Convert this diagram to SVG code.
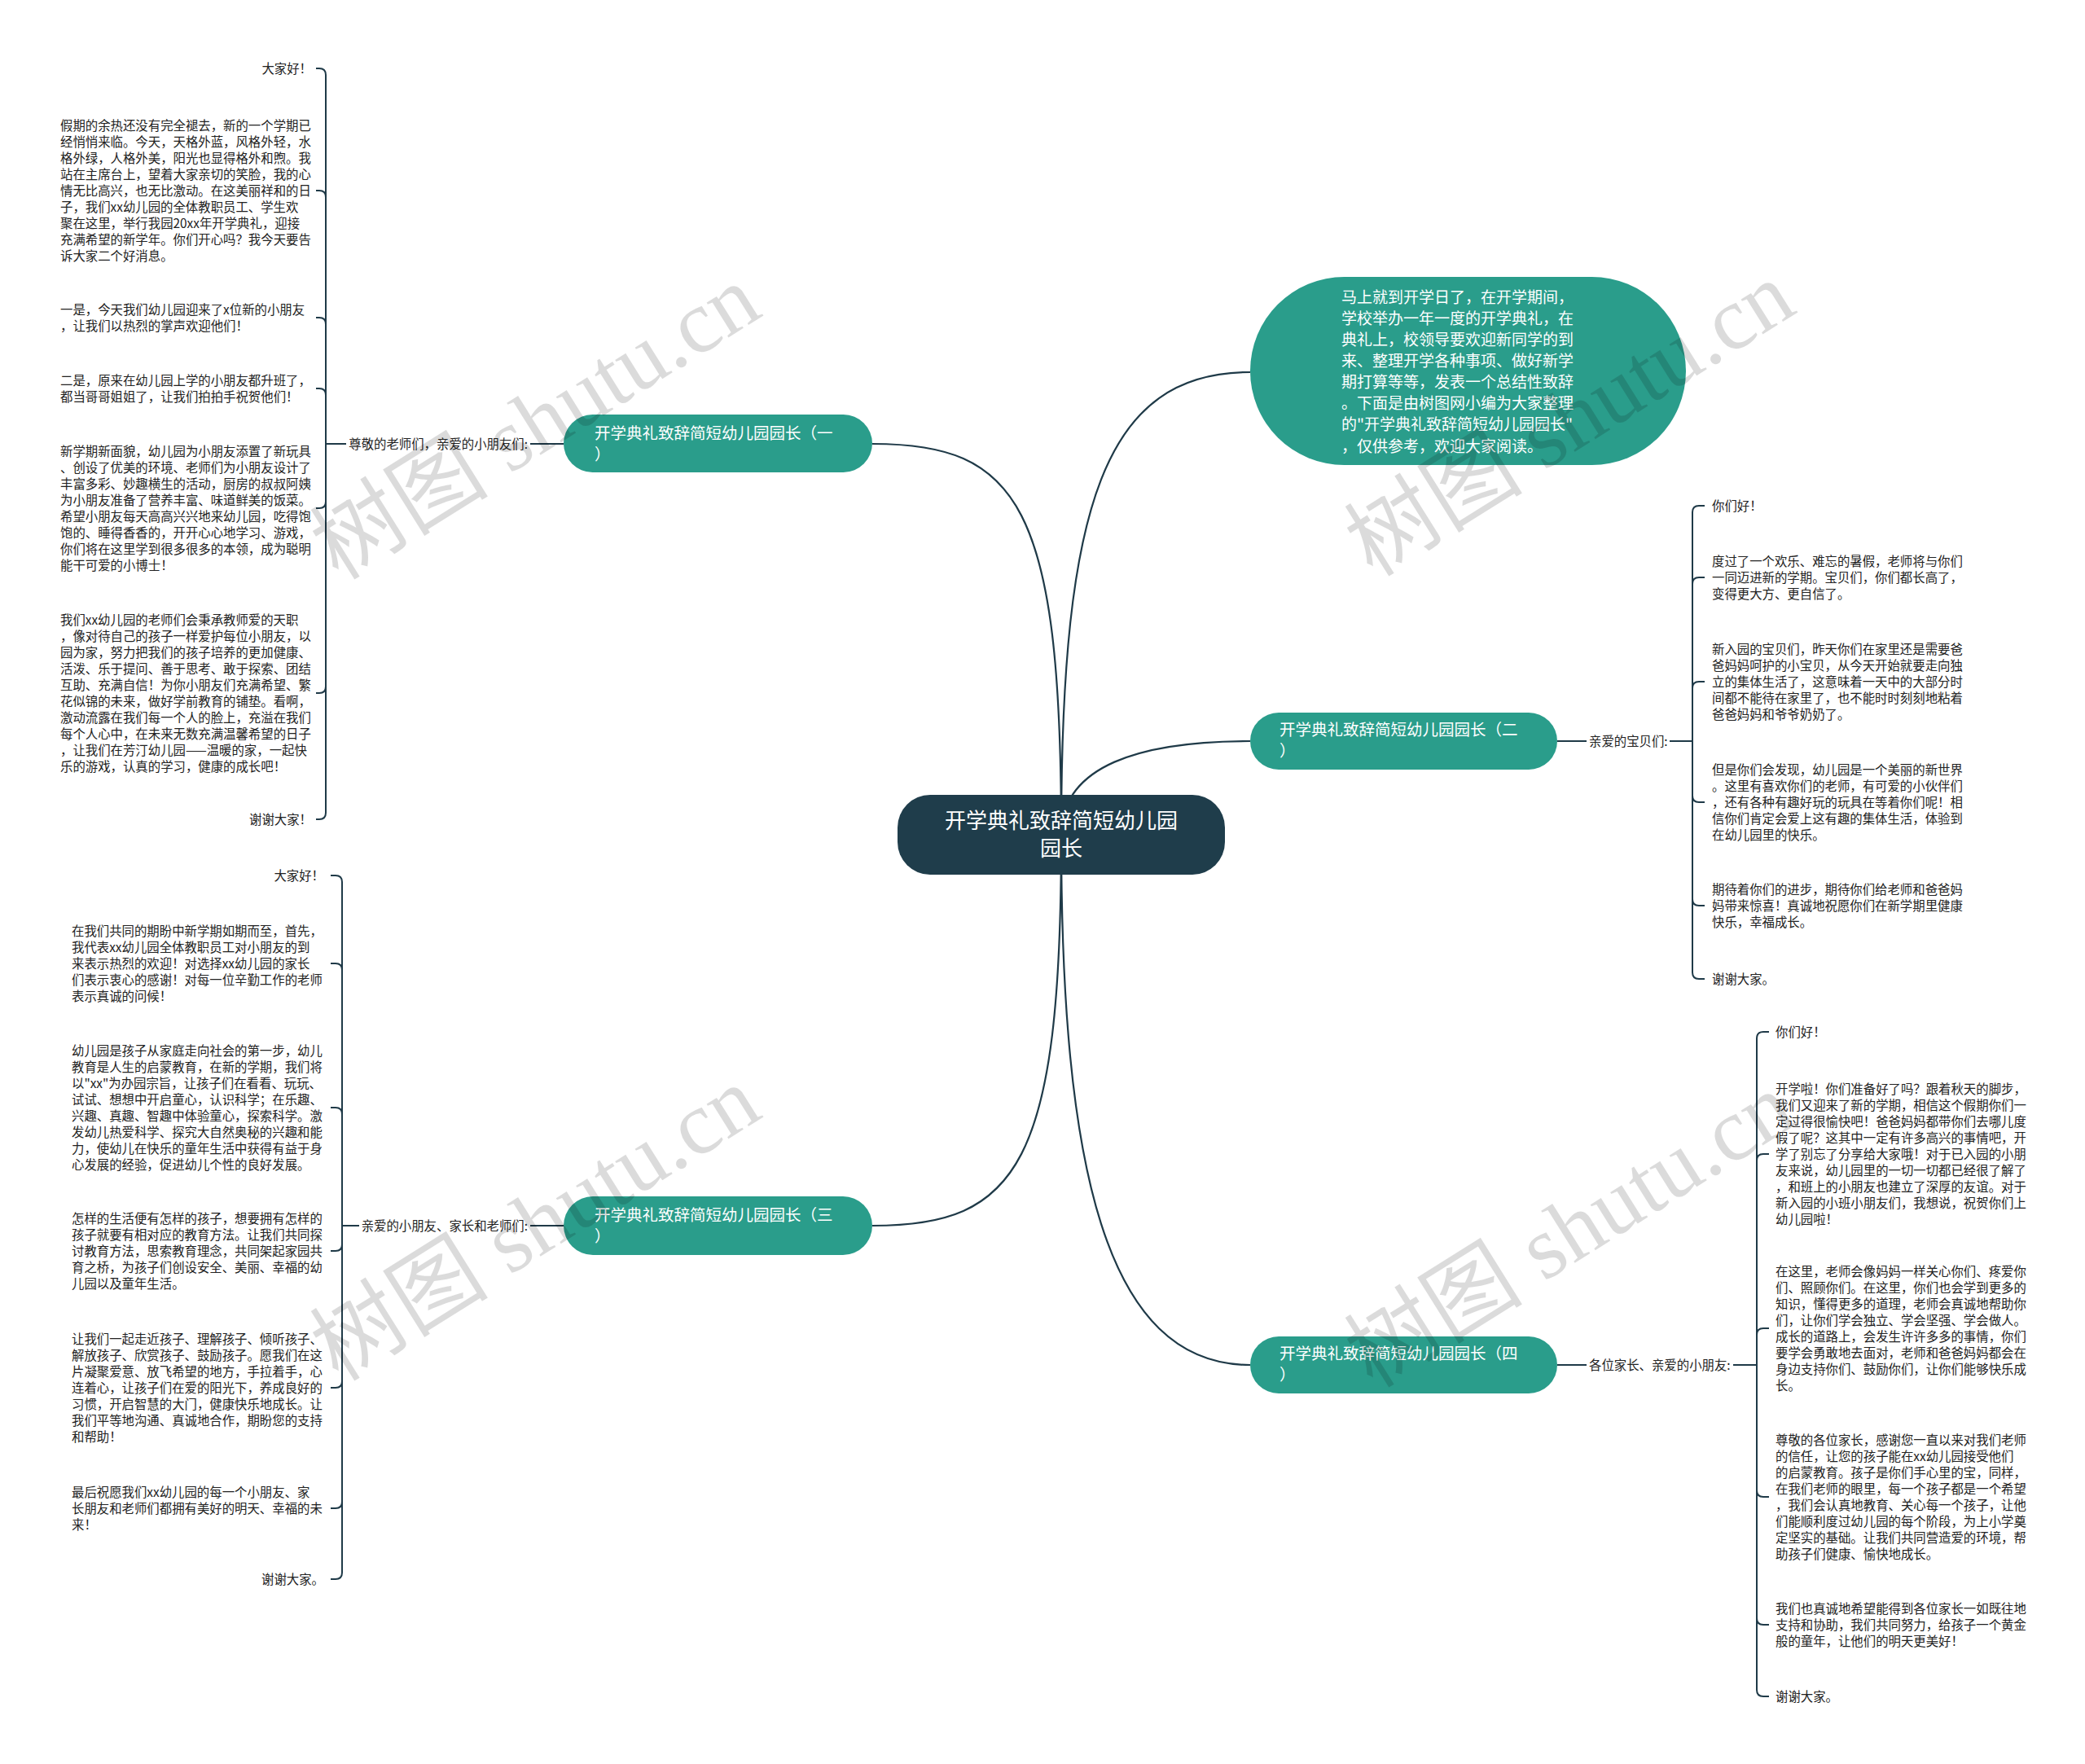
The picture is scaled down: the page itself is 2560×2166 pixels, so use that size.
<svg xmlns="http://www.w3.org/2000/svg" width="2560" height="2166" viewBox="0 0 2560 2166">
<style>
.bg{fill:#ffffff}
.conn{fill:none;stroke:#1f3a48;stroke-width:2.2}
.tick{fill:none;stroke:#1f3a48;stroke-width:2}
.center{fill:#1f3d4b}
.teal{fill:#2a9d8b}
.ct{font-family:"Noto Sans CJK SC","Noto Sans",sans-serif;font-size:26px;fill:#ffffff;text-anchor:middle}
.bt{font-family:"Noto Sans CJK SC","Noto Sans",sans-serif;font-size:19.5px;fill:#ffffff}
.it{font-family:"Noto Sans CJK SC","Noto Sans",sans-serif;font-size:19px;fill:#ffffff}
.lt{font-family:"Noto Sans CJK SC","Noto Sans",sans-serif;font-size:15.4px;fill:#222222}
.end{text-anchor:end}
.wm{font-family:"Liberation Serif","Noto Sans CJK SC",serif;font-size:110px;fill:#000000;fill-opacity:0.14;text-anchor:middle}
</style>
<rect class="bg" x="0" y="0" width="2560" height="2166"/>
<g id="connectors">
<path class="conn" d="M1303 1025 C1303 620 1250 545 1071 545"/>
<path class="conn" d="M1303 1025 C1303 620 1356 457 1535 457"/>
<path class="conn" d="M1303 1025 C1303 940 1400 910 1535 910"/>
<path class="conn" d="M1303 1025 C1303 1430 1356 1676 1535 1676"/>
<path class="conn" d="M1303 1025 C1303 1430 1250 1505 1071 1505"/>
<path class="tick" d="M692 545 L651 545 M425 545 L400 545"/>
<path class="tick" d="M400 545 L400 92 Q400 84 392 84 L388 84"/>
<path class="tick" d="M400 545 L400 242 Q400 234 392 234 L388 234"/>
<path class="tick" d="M400 545 L400 398 Q400 390 392 390 L388 390"/>
<path class="tick" d="M400 545 L400 485 Q400 477 392 477 L388 477"/>
<path class="tick" d="M400 545 L400 616 Q400 624 392 624 L388 624"/>
<path class="tick" d="M400 545 L400 843 Q400 851 392 851 L388 851"/>
<path class="tick" d="M400 545 L400 998 Q400 1006 392 1006 L388 1006"/>
<path class="tick" d="M692 1505 L651 1505 M441 1505 L420 1505"/>
<path class="tick" d="M420 1505 L420 1083 Q420 1075 412 1075 L406 1075"/>
<path class="tick" d="M420 1505 L420 1191 Q420 1183 412 1183 L406 1183"/>
<path class="tick" d="M420 1505 L420 1368 Q420 1360 412 1360 L406 1360"/>
<path class="tick" d="M420 1505 L420 1528 Q420 1536 412 1536 L406 1536"/>
<path class="tick" d="M420 1505 L420 1696 Q420 1704 412 1704 L406 1704"/>
<path class="tick" d="M420 1505 L420 1844 Q420 1852 412 1852 L406 1852"/>
<path class="tick" d="M420 1505 L420 1931 Q420 1939 412 1939 L406 1939"/>
<path class="tick" d="M1912 910 L1948 910 M2050 910 L2078 910"/>
<path class="tick" d="M2078 910 L2078 629 Q2078 621 2086 621 L2093 621"/>
<path class="tick" d="M2078 910 L2078 717 Q2078 709 2086 709 L2093 709"/>
<path class="tick" d="M2078 910 L2078 845 Q2078 837 2086 837 L2093 837"/>
<path class="tick" d="M2078 910 L2078 977 Q2078 985 2086 985 L2093 985"/>
<path class="tick" d="M2078 910 L2078 1104 Q2078 1112 2086 1112 L2093 1112"/>
<path class="tick" d="M2078 910 L2078 1194 Q2078 1202 2086 1202 L2093 1202"/>
<path class="tick" d="M1912 1676 L1948 1676 M2128 1676 L2157 1676"/>
<path class="tick" d="M2157 1676 L2157 1275 Q2157 1267 2165 1267 L2172 1267"/>
<path class="tick" d="M2157 1676 L2157 1425 Q2157 1417 2165 1417 L2172 1417"/>
<path class="tick" d="M2157 1676 L2157 1639 Q2157 1631 2165 1631 L2172 1631"/>
<path class="tick" d="M2157 1676 L2157 1830 Q2157 1838 2165 1838 L2172 1838"/>
<path class="tick" d="M2157 1676 L2157 1987 Q2157 1995 2165 1995 L2172 1995"/>
<path class="tick" d="M2157 1676 L2157 2075 Q2157 2083 2165 2083 L2172 2083"/>
</g>
<g id="node-center">
<rect class="center" x="1102" y="976" width="402" height="98" rx="40"/>
<text class="ct"><tspan x="1303" y="1017">开学典礼致辞简短幼儿园</tspan><tspan x="1303" y="1051">园长</tspan></text>
</g>
<g id="node-intro">
<rect class="teal" x="1535" y="340" width="535" height="231" rx="115.5"/>
<text class="it"><tspan x="1647" y="372">马上就到开学日了，在开学期间，</tspan><tspan x="1647" y="398">学校举办一年一度的开学典礼，在</tspan><tspan x="1647" y="424">典礼上，校领导要欢迎新同学的到</tspan><tspan x="1647" y="450">来、整理开学各种事项、做好新学</tspan><tspan x="1647" y="476">期打算等等，发表一个总结性致辞</tspan><tspan x="1647" y="502">。下面是由树图网小编为大家整理</tspan><tspan x="1647" y="528">的"开学典礼致辞简短幼儿园园长"</tspan><tspan x="1647" y="555">，仅供参考，欢迎大家阅读。</tspan></text>
</g>
<g id="node-b1">
<rect class="teal" x="692" y="509" width="379" height="71" rx="35.5"/>
<text class="bt"><tspan x="730" y="539">开学典礼致辞简短幼儿园园长（一</tspan><tspan x="730" y="565">）</tspan></text>
</g>
<g id="node-b2">
<rect class="teal" x="1535" y="875" width="377" height="70" rx="35"/>
<text class="bt"><tspan x="1571" y="903">开学典礼致辞简短幼儿园园长（二</tspan><tspan x="1571" y="929">）</tspan></text>
</g>
<g id="node-b3">
<rect class="teal" x="692" y="1469" width="379" height="72" rx="36"/>
<text class="bt"><tspan x="730" y="1499">开学典礼致辞简短幼儿园园长（三</tspan><tspan x="730" y="1525">）</tspan></text>
</g>
<g id="node-b4">
<rect class="teal" x="1535" y="1641" width="377" height="70" rx="35"/>
<text class="bt"><tspan x="1571" y="1669">开学典礼致辞简短幼儿园园长（四</tspan><tspan x="1571" y="1695">）</tspan></text>
</g>
<g id="label-b1"><text class="lt end" x="648" y="551">尊敬的老师们，亲爱的小朋友们:</text></g>
<g id="label-b2"><text class="lt" x="1951" y="916">亲爱的宝贝们:</text></g>
<g id="label-b3"><text class="lt end" x="648" y="1511">亲爱的小朋友、家长和老师们:</text></g>
<g id="label-b4"><text class="lt" x="1951" y="1682">各位家长、亲爱的小朋友:</text></g>
<g id="leaves-b1">
<text class="lt end" x="383" y="90">大家好！</text>
<text class="lt"><tspan x="74" y="160">假期的余热还没有完全褪去，新的一个学期已</tspan><tspan x="74" y="180">经悄悄来临。今天，天格外蓝，风格外轻，水</tspan><tspan x="74" y="200">格外绿，人格外美，阳光也显得格外和煦。我</tspan><tspan x="74" y="220">站在主席台上，望着大家亲切的笑脸，我的心</tspan><tspan x="74" y="240">情无比高兴，也无比激动。在这美丽祥和的日</tspan><tspan x="74" y="260">子，我们xx幼儿园的全体教职员工、学生欢</tspan><tspan x="74" y="280">聚在这里，举行我园20xx年开学典礼，迎接</tspan><tspan x="74" y="300">充满希望的新学年。你们开心吗？我今天要告</tspan><tspan x="74" y="320">诉大家二个好消息。</tspan></text>
<text class="lt"><tspan x="74" y="386">一是，今天我们幼儿园迎来了x位新的小朋友</tspan><tspan x="74" y="406">，让我们以热烈的掌声欢迎他们！</tspan></text>
<text class="lt"><tspan x="74" y="473">二是，原来在幼儿园上学的小朋友都升班了，</tspan><tspan x="74" y="493">都当哥哥姐姐了，让我们拍拍手祝贺他们！</tspan></text>
<text class="lt"><tspan x="74" y="560">新学期新面貌，幼儿园为小朋友添置了新玩具</tspan><tspan x="74" y="580">、创设了优美的环境、老师们为小朋友设计了</tspan><tspan x="74" y="600">丰富多彩、妙趣横生的活动，厨房的叔叔阿姨</tspan><tspan x="74" y="620">为小朋友准备了营养丰富、味道鲜美的饭菜。</tspan><tspan x="74" y="640">希望小朋友每天高高兴兴地来幼儿园，吃得饱</tspan><tspan x="74" y="660">饱的、睡得香香的，开开心心地学习、游戏，</tspan><tspan x="74" y="680">你们将在这里学到很多很多的本领，成为聪明</tspan><tspan x="74" y="700">能干可爱的小博士！</tspan></text>
<text class="lt"><tspan x="74" y="767">我们xx幼儿园的老师们会秉承教师爱的天职</tspan><tspan x="74" y="787">，像对待自己的孩子一样爱护每位小朋友，以</tspan><tspan x="74" y="807">园为家，努力把我们的孩子培养的更加健康、</tspan><tspan x="74" y="827">活泼、乐于提问、善于思考、敢于探索、团结</tspan><tspan x="74" y="847">互助、充满自信！为你小朋友们充满希望、繁</tspan><tspan x="74" y="867">花似锦的未来，做好学前教育的铺垫。看啊，</tspan><tspan x="74" y="887">激动流露在我们每一个人的脸上，充溢在我们</tspan><tspan x="74" y="907">每个人心中，在未来无数充满温馨希望的日子</tspan><tspan x="74" y="927">，让我们在芳汀幼儿园——温暖的家，一起快</tspan><tspan x="74" y="947">乐的游戏，认真的学习，健康的成长吧！</tspan></text>
<text class="lt end" x="383" y="1012">谢谢大家！</text>
</g>
<g id="leaves-b3">
<text class="lt end" x="398" y="1081">大家好！</text>
<text class="lt"><tspan x="88" y="1149">在我们共同的期盼中新学期如期而至，首先，</tspan><tspan x="88" y="1169">我代表xx幼儿园全体教职员工对小朋友的到</tspan><tspan x="88" y="1189">来表示热烈的欢迎！对选择xx幼儿园的家长</tspan><tspan x="88" y="1209">们表示衷心的感谢！对每一位辛勤工作的老师</tspan><tspan x="88" y="1229">表示真诚的问候！</tspan></text>
<text class="lt"><tspan x="88" y="1296">幼儿园是孩子从家庭走向社会的第一步，幼儿</tspan><tspan x="88" y="1316">教育是人生的启蒙教育，在新的学期，我们将</tspan><tspan x="88" y="1336">以"xx"为办园宗旨，让孩子们在看看、玩玩、</tspan><tspan x="88" y="1356">试试、想想中开启童心，认识科学；在乐趣、</tspan><tspan x="88" y="1376">兴趣、真趣、智趣中体验童心，探索科学。激</tspan><tspan x="88" y="1396">发幼儿热爱科学、探究大自然奥秘的兴趣和能</tspan><tspan x="88" y="1416">力，使幼儿在快乐的童年生活中获得有益于身</tspan><tspan x="88" y="1436">心发展的经验，促进幼儿个性的良好发展。</tspan></text>
<text class="lt"><tspan x="88" y="1502">怎样的生活便有怎样的孩子，想要拥有怎样的</tspan><tspan x="88" y="1522">孩子就要有相对应的教育方法。让我们共同探</tspan><tspan x="88" y="1542">讨教育方法，思索教育理念，共同架起家园共</tspan><tspan x="88" y="1562">育之桥，为孩子们创设安全、美丽、幸福的幼</tspan><tspan x="88" y="1582">儿园以及童年生活。</tspan></text>
<text class="lt"><tspan x="88" y="1650">让我们一起走近孩子、理解孩子、倾听孩子、</tspan><tspan x="88" y="1670">解放孩子、欣赏孩子、鼓励孩子。愿我们在这</tspan><tspan x="88" y="1690">片凝聚爱意、放飞希望的地方，手拉着手，心</tspan><tspan x="88" y="1710">连着心，让孩子们在爱的阳光下，养成良好的</tspan><tspan x="88" y="1730">习惯，开启智慧的大门，健康快乐地成长。让</tspan><tspan x="88" y="1750">我们平等地沟通、真诚地合作，期盼您的支持</tspan><tspan x="88" y="1770">和帮助！</tspan></text>
<text class="lt"><tspan x="88" y="1838">最后祝愿我们xx幼儿园的每一个小朋友、家</tspan><tspan x="88" y="1858">长朋友和老师们都拥有美好的明天、幸福的未</tspan><tspan x="88" y="1878">来！</tspan></text>
<text class="lt end" x="398" y="1945">谢谢大家。</text>
</g>
<g id="leaves-b2">
<text class="lt" x="2102" y="627">你们好！</text>
<text class="lt"><tspan x="2102" y="695">度过了一个欢乐、难忘的暑假，老师将与你们</tspan><tspan x="2102" y="715">一同迈进新的学期。宝贝们，你们都长高了，</tspan><tspan x="2102" y="735">变得更大方、更自信了。</tspan></text>
<text class="lt"><tspan x="2102" y="803">新入园的宝贝们，昨天你们在家里还是需要爸</tspan><tspan x="2102" y="823">爸妈妈呵护的小宝贝，从今天开始就要走向独</tspan><tspan x="2102" y="843">立的集体生活了，这意味着一天中的大部分时</tspan><tspan x="2102" y="863">间都不能待在家里了，也不能时时刻刻地粘着</tspan><tspan x="2102" y="883">爸爸妈妈和爷爷奶奶了。</tspan></text>
<text class="lt"><tspan x="2102" y="951">但是你们会发现，幼儿园是一个美丽的新世界</tspan><tspan x="2102" y="971">。这里有喜欢你们的老师，有可爱的小伙伴们</tspan><tspan x="2102" y="991">，还有各种有趣好玩的玩具在等着你们呢！相</tspan><tspan x="2102" y="1011">信你们肯定会爱上这有趣的集体生活，体验到</tspan><tspan x="2102" y="1031">在幼儿园里的快乐。</tspan></text>
<text class="lt"><tspan x="2102" y="1098">期待着你们的进步，期待你们给老师和爸爸妈</tspan><tspan x="2102" y="1118">妈带来惊喜！真诚地祝愿你们在新学期里健康</tspan><tspan x="2102" y="1138">快乐，幸福成长。</tspan></text>
<text class="lt" x="2102" y="1208">谢谢大家。</text>
</g>
<g id="leaves-b4">
<text class="lt" x="2180" y="1273">你们好！</text>
<text class="lt"><tspan x="2180" y="1343">开学啦！你们准备好了吗？跟着秋天的脚步，</tspan><tspan x="2180" y="1363">我们又迎来了新的学期，相信这个假期你们一</tspan><tspan x="2180" y="1383">定过得很愉快吧！爸爸妈妈都带你们去哪儿度</tspan><tspan x="2180" y="1403">假了呢？这其中一定有许多高兴的事情吧，开</tspan><tspan x="2180" y="1423">学了别忘了分享给大家哦！对于已入园的小朋</tspan><tspan x="2180" y="1443">友来说，幼儿园里的一切一切都已经很了解了</tspan><tspan x="2180" y="1463">，和班上的小朋友也建立了深厚的友谊。对于</tspan><tspan x="2180" y="1483">新入园的小班小朋友们，我想说，祝贺你们上</tspan><tspan x="2180" y="1503">幼儿园啦！</tspan></text>
<text class="lt"><tspan x="2180" y="1567">在这里，老师会像妈妈一样关心你们、疼爱你</tspan><tspan x="2180" y="1587">们、照顾你们。在这里，你们也会学到更多的</tspan><tspan x="2180" y="1607">知识，懂得更多的道理，老师会真诚地帮助你</tspan><tspan x="2180" y="1627">们，让你们学会独立、学会坚强、学会做人。</tspan><tspan x="2180" y="1647">成长的道路上，会发生许许多多的事情，你们</tspan><tspan x="2180" y="1667">要学会勇敢地去面对，老师和爸爸妈妈都会在</tspan><tspan x="2180" y="1687">身边支持你们、鼓励你们，让你们能够快乐成</tspan><tspan x="2180" y="1707">长。</tspan></text>
<text class="lt"><tspan x="2180" y="1774">尊敬的各位家长，感谢您一直以来对我们老师</tspan><tspan x="2180" y="1794">的信任，让您的孩子能在xx幼儿园接受他们</tspan><tspan x="2180" y="1814">的启蒙教育。孩子是你们手心里的宝，同样，</tspan><tspan x="2180" y="1834">在我们老师的眼里，每一个孩子都是一个希望</tspan><tspan x="2180" y="1854">，我们会认真地教育、关心每一个孩子，让他</tspan><tspan x="2180" y="1874">们能顺利度过幼儿园的每个阶段，为上小学奠</tspan><tspan x="2180" y="1894">定坚实的基础。让我们共同营造爱的环境，帮</tspan><tspan x="2180" y="1914">助孩子们健康、愉快地成长。</tspan></text>
<text class="lt"><tspan x="2180" y="1981">我们也真诚地希望能得到各位家长一如既往地</tspan><tspan x="2180" y="2001">支持和协助，我们共同努力，给孩子一个黄金</tspan><tspan x="2180" y="2021">般的童年，让他们的明天更美好！</tspan></text>
<text class="lt" x="2180" y="2089">谢谢大家。</text>
</g>
<g id="watermarks">
<text class="wm" transform="translate(657 518) rotate(-32)" x="0" y="38">树图 shutu.cn</text>
<text class="wm" transform="translate(657 1502) rotate(-32)" x="0" y="38">树图 shutu.cn</text>
<text class="wm" transform="translate(1927 514) rotate(-32)" x="0" y="38">树图 shutu.cn</text>
<text class="wm" transform="translate(1927 1510) rotate(-32)" x="0" y="38">树图 shutu.cn</text>
</g>
</svg>
